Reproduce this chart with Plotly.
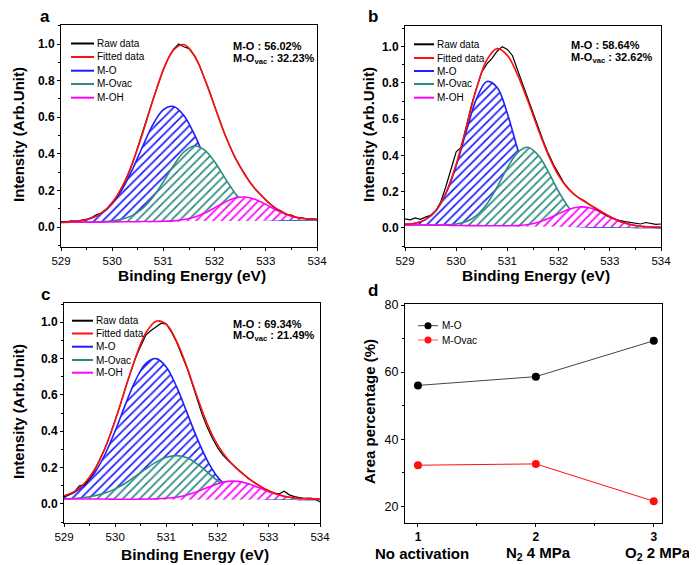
import plotly.graph_objects as go

W, H = 697, 565
OX, OY = 8, 8  # page body margin offset
FONT = "Liberation Sans, Arial, sans-serif"

# ---------------- data ----------------
E_FIT = [529.0, 529.2, 529.4, 529.6, 529.8, 530.0, 530.2, 530.4, 530.6, 530.8,
         531.0, 531.2, 531.4, 531.6, 531.8, 532.0, 532.2, 532.4, 532.6, 532.8,
         533.0, 533.2, 533.4, 533.6, 533.8, 534.0]
E_RAW = [529.0, 529.1, 529.2, 529.3, 529.4, 529.5, 529.6, 529.7, 529.8, 529.9,
         530.0, 530.1, 530.2, 530.3, 530.4, 530.5, 530.6, 530.7, 530.8, 530.9,
         531.0, 531.1, 531.2, 531.3, 531.4, 531.5, 531.6, 531.7, 531.8, 531.9,
         532.0, 532.1, 532.2, 532.3, 532.4, 532.5, 532.6, 532.7, 532.8, 532.9,
         533.0, 533.1, 533.2, 533.3, 533.4, 533.5, 533.6, 533.7, 533.8, 533.9, 534.0]

# panel a (no activation)
a_base = [0.025, 0.026, 0.026, 0.027, 0.027, 0.028, 0.029, 0.029, 0.030, 0.030, 0.031, 0.031, 0.032,
          0.033, 0.033, 0.034, 0.034, 0.035, 0.035, 0.036, 0.037, 0.037, 0.038, 0.038, 0.039, 0.040]
a_mo = [0.026, 0.029, 0.035, 0.049, 0.077, 0.128, 0.209, 0.318, 0.444, 0.562, 0.642, 0.659, 0.610,
        0.509, 0.383, 0.265, 0.170, 0.107, 0.069, 0.050, 0.042, 0.039, 0.039, 0.038, 0.039, 0.040]
a_ovac = [0.025, 0.026, 0.026, 0.027, 0.029, 0.033, 0.044, 0.064, 0.103, 0.165, 0.248, 0.337, 0.410,
          0.443, 0.422, 0.357, 0.269, 0.185, 0.119, 0.077, 0.055, 0.044, 0.040, 0.039, 0.039, 0.040]
a_oh = [0.025, 0.026, 0.026, 0.027, 0.027, 0.028, 0.029, 0.029, 0.030, 0.030, 0.032, 0.034, 0.041,
        0.054, 0.075, 0.105, 0.136, 0.159, 0.164, 0.151, 0.124, 0.093, 0.069, 0.052, 0.045, 0.042]
a_fit = [0.026, 0.029, 0.035, 0.050, 0.079, 0.133, 0.224, 0.353, 0.517, 0.697, 0.860, 0.968, 0.997,
         0.940, 0.814, 0.659, 0.507, 0.381, 0.282, 0.206, 0.147, 0.102, 0.072, 0.053, 0.045, 0.042]
a_raw = [0.030, 0.028, 0.034, 0.030, 0.036, 0.040, 0.052, 0.068, 0.078, 0.100,
         0.135, 0.170, 0.222, 0.280, 0.350, 0.440, 0.520, 0.612, 0.700, 0.780,
         0.862, 0.925, 0.972, 1.000, 0.985, 0.975, 0.938, 0.885, 0.815, 0.742,
         0.662, 0.580, 0.505, 0.440, 0.378, 0.330, 0.285, 0.240, 0.205, 0.175,
         0.150, 0.122, 0.100, 0.088, 0.070, 0.066, 0.052, 0.050, 0.044, 0.045, 0.040]

# panel b (N2 4 MPa)
b_base = [0.017, 0.016, 0.016, 0.015, 0.015, 0.014, 0.013, 0.013, 0.012, 0.012, 0.011, 0.010, 0.010,
          0.009, 0.009, 0.008, 0.007, 0.007, 0.006, 0.006, 0.005, 0.004, 0.004, 0.003, 0.003, 0.002]
b_mo = [0.020, 0.026, 0.046, 0.094, 0.191, 0.344, 0.536, 0.715, 0.808, 0.775, 0.630, 0.434, 0.256,
        0.130, 0.059, 0.026, 0.012, 0.008, 0.006, 0.006, 0.005, 0.004, 0.004, 0.003, 0.003, 0.002]
b_ovac = [0.017, 0.016, 0.016, 0.016, 0.017, 0.022, 0.036, 0.070, 0.132, 0.226, 0.332, 0.416, 0.445,
          0.402, 0.309, 0.201, 0.112, 0.055, 0.025, 0.012, 0.007, 0.004, 0.004, 0.003, 0.003, 0.002]
b_oh = [0.017, 0.016, 0.016, 0.015, 0.015, 0.014, 0.013, 0.013, 0.012, 0.012, 0.012, 0.013, 0.019,
        0.031, 0.052, 0.078, 0.103, 0.116, 0.111, 0.090, 0.061, 0.036, 0.019, 0.009, 0.005, 0.003]
b_fit = [0.020, 0.026, 0.046, 0.095, 0.193, 0.352, 0.559, 0.772, 0.928, 0.989, 0.952, 0.843, 0.700,
         0.545, 0.402, 0.289, 0.213, 0.165, 0.130, 0.096, 0.063, 0.036, 0.019, 0.009, 0.005, 0.003]
b_raw = [0.050, 0.045, 0.055, 0.048, 0.060, 0.070, 0.095, 0.145, 0.230, 0.330,
         0.420, 0.445, 0.560, 0.680, 0.775, 0.860, 0.905, 0.935, 0.975, 1.000,
         0.985, 0.950, 0.870, 0.790, 0.710, 0.635, 0.560, 0.480, 0.410, 0.350,
         0.300, 0.250, 0.215, 0.185, 0.165, 0.150, 0.130, 0.110, 0.090, 0.075,
         0.060, 0.048, 0.040, 0.035, 0.030, 0.028, 0.022, 0.030, 0.025, 0.020, 0.022]

# panel c (O2 2 MPa)
c_base = [0.027, 0.027, 0.027, 0.027, 0.027, 0.026, 0.026, 0.026, 0.026, 0.026, 0.026, 0.026, 0.026,
          0.026, 0.026, 0.026, 0.026, 0.026, 0.026, 0.026, 0.026, 0.026, 0.026, 0.025, 0.025, 0.025]
c_mo = [0.043, 0.064, 0.105, 0.172, 0.272, 0.402, 0.548, 0.682, 0.774, 0.800, 0.753, 0.644, 0.504,
        0.361, 0.239, 0.148, 0.090, 0.056, 0.039, 0.031, 0.028, 0.027, 0.026, 0.025, 0.025, 0.025]
c_ovac = [0.028, 0.030, 0.035, 0.045, 0.060, 0.083, 0.114, 0.153, 0.193, 0.230, 0.257, 0.266, 0.254,
          0.220, 0.175, 0.128, 0.089, 0.061, 0.044, 0.034, 0.029, 0.027, 0.026, 0.025, 0.025, 0.025]
c_oh = [0.027, 0.027, 0.027, 0.027, 0.027, 0.026, 0.026, 0.026, 0.027, 0.028, 0.031, 0.037, 0.049,
        0.067, 0.090, 0.111, 0.124, 0.124, 0.111, 0.090, 0.067, 0.049, 0.037, 0.030, 0.027, 0.026]
c_fit = [0.045, 0.068, 0.114, 0.191, 0.306, 0.459, 0.636, 0.809, 0.942, 1.006, 0.989, 0.895, 0.755,
         0.590, 0.440, 0.325, 0.246, 0.187, 0.142, 0.103, 0.072, 0.051, 0.037, 0.031, 0.028, 0.027]
c_raw = [0.040, 0.050, 0.065, 0.100, 0.105, 0.140, 0.185, 0.245, 0.305, 0.380,
         0.460, 0.545, 0.640, 0.725, 0.805, 0.870, 0.930, 0.955, 0.975, 0.995,
         0.990, 0.945, 0.890, 0.825, 0.750, 0.665, 0.575, 0.490, 0.420, 0.360,
         0.310, 0.270, 0.240, 0.215, 0.185, 0.160, 0.140, 0.120, 0.100, 0.085,
         0.072, 0.060, 0.055, 0.070, 0.050, 0.040, 0.035, 0.030, 0.032, 0.028, 0.010]

# panel d
conditions = [1, 2, 3]
condition_labels = ["No activation", "N<sub>2</sub> 4 MPa", "O<sub>2</sub> 2 MPa"]
mo_pct = [56.02, 58.64, 69.34]
ovac_pct = [32.23, 32.62, 21.49]

legend_names = ["Raw data", "Fitted data", "M-O", "M-Ovac", "M-OH"]

# ---------------- styles ----------------
BLACK = "#000000"
RED = "#ff1010"
BLUE = "#1e1eff"
TEAL = "#2a8c80"
MAGENTA = "#ff00ff"


def P(x, y):
    return (x - OX) / W, 1 - (y - OY) / H


fig = go.Figure()


def add_xps(xa, ya, base, mo, ov, oh, fit, raw):
    for comp, color in [(mo, BLUE), (ov, TEAL), (oh, MAGENTA)]:
        fig.add_trace(go.Scatter(x=E_FIT, y=base, xaxis=xa, yaxis=ya, mode="lines",
                                 line=dict(width=0, shape="spline", color="white"),
                                 showlegend=False, hoverinfo="skip"))
        fig.add_trace(go.Scatter(x=E_FIT, y=comp, xaxis=xa, yaxis=ya, mode="lines",
                                 line=dict(color=color, width=1.6, shape="spline"),
                                 fill="tonexty", fillcolor="white",
                                 fillpattern=dict(shape="/", fgcolor=color, bgcolor="white",
                                                  fgopacity=1, size=6, solidity=0.28),
                                 showlegend=False))
    fig.add_trace(go.Scatter(x=E_RAW, y=raw, xaxis=xa, yaxis=ya, mode="lines",
                             line=dict(color=BLACK, width=1.2), showlegend=False))
    fig.add_trace(go.Scatter(x=E_FIT, y=fit, xaxis=xa, yaxis=ya, mode="lines",
                             line=dict(color=RED, width=1.6, shape="spline"), showlegend=False))


add_xps("x", "y", a_base, a_mo, a_ovac, a_oh, a_fit, a_raw)
add_xps("x2", "y2", b_base, b_mo, b_ovac, b_oh, b_fit, b_raw)
add_xps("x3", "y3", c_base, c_mo, c_ovac, c_oh, c_fit, c_raw)

fig.add_trace(go.Scatter(x=conditions, y=mo_pct, xaxis="x4", yaxis="y4", mode="lines+markers",
                         line=dict(color="#444444", width=1),
                         marker=dict(color=BLACK, size=8), showlegend=False))
fig.add_trace(go.Scatter(x=conditions, y=ovac_pct, xaxis="x4", yaxis="y4", mode="lines+markers",
                         line=dict(color=RED, width=1),
                         marker=dict(color=RED, size=8), showlegend=False))

# ---------------- axes ----------------
def dom_x(l, r):
    return [(l - OX) / W, (r - OX) / W]


def dom_y(t, b):
    return [1 - (b - OY) / H, 1 - (t - OY) / H]


base_axis = dict(showgrid=False, zeroline=False, showline=True, linecolor="black", linewidth=1,
                 ticks="outside", ticklen=3, tickwidth=1, tickcolor="black")

xfont = dict(family=FONT, size=11.5, color="black")
yfont = dict(family=FONT, size=12, color="black", weight="bold")


def xps_x(domain, anchor):
    return dict(base_axis, domain=domain, anchor=anchor, range=[529, 534], tick0=529, dtick=1,
                mirror=True, tickfont=xfont, minor=dict(ticks="outside", ticklen=2, dtick=0.5))


def xps_y(domain, anchor, rng):
    return dict(base_axis, domain=domain, anchor=anchor, range=rng, tick0=0, dtick=0.2,
                tickformat=".1f", mirror=True, tickfont=yfont,
                minor=dict(ticks="outside", ticklen=2, dtick=0.1))


layout = dict(
    width=W, height=H, autosize=False,
    margin=dict(l=0, r=0, t=0, b=0, pad=0, autoexpand=False),
    paper_bgcolor="white", plot_bgcolor="white", showlegend=False,
    font=dict(family=FONT, color="black"),
    xaxis=xps_x(dom_x(61, 317), "y"),
    yaxis=xps_y(dom_y(25, 247), "x", [-0.109, 1.104]),
    xaxis2=xps_x(dom_x(405, 661), "y2"),
    yaxis2=xps_y(dom_y(26, 247), "x2", [-0.105, 1.114]),
    xaxis3=xps_x(dom_x(64, 320), "y3"),
    yaxis3=xps_y(dom_y(303, 523), "x3", [-0.105, 1.106]),
    xaxis4=dict(base_axis, domain=dom_x(405, 662), anchor="y4", range=[0.89, 3.07],
                tickvals=conditions, mirror=True,
                tickfont=dict(family=FONT, size=12, color="black", weight="bold"),
                minor=dict(ticks="outside", ticklen=2, tickvals=[1.5, 2.5])),
    yaxis4=dict(base_axis, domain=dom_y(304, 523), anchor="x4", range=[15, 80.3], tick0=0, dtick=20,
                mirror=True, tickfont=dict(family=FONT, size=12.5, color="black"),
                minor=dict(ticks="outside", ticklen=2, dtick=10)),
)
fig.update_layout(**layout)

annotations = []
shapes = []


def text(x, y, s, size, bold=False, anchor="left", angle=0, color="black"):
    px, py = P(x, y)
    annotations.append(dict(x=px, y=py, xref="paper", yref="paper", text=s, showarrow=False,
                            xanchor=anchor, yanchor="middle", textangle=angle, borderpad=0,
                            font=dict(family=FONT, size=size, color=color,
                                      weight="bold" if bold else "normal")))


# panel letters
text(45, 16, "a", 17, True, "center")
text(373, 16, "b", 17, True, "center")
text(45, 294, "c", 17, True, "center")
text(373, 290, "d", 17, True, "center")

# axis titles
for cx, cy in [(192, 276), (536, 276), (195, 554)]:
    text(cx, cy, "Binding Energy (eV)", 15.5, True, "center")
for cx, cy in [(18, 135), (368, 135), (18, 412)]:
    text(cx, cy, "Intensity (Arb.Unit)", 15, True, "center", -90)
text(369, 412, "Area percentage (%)", 15, True, "center", -90)

# condition labels under panel d
for cx, lab in zip([422, 538, 658], condition_labels):
    text(cx, 553, lab, 15, True, "center")

# percentage annotations
for (lx, y1, y2), mo, ov in zip([(232, 46, 58.5), (570, 44.5, 57.5), (232, 323.5, 335.5)],
                                 mo_pct[:3], ovac_pct[:3]):
    text(lx, y1, "M-O : %.2f%%" % mo, 11, True)
    text(lx, y2, "M-O<sub>vac</sub> : %.2f%%" % ov, 11, True)

# custom legends for XPS panels
leg_colors = [BLACK, RED, BLUE, TEAL, MAGENTA]
for x0, x1, tx, rows in [(71, 94, 96, [43.5, 57, 70.7, 84, 97.7]),
                         (414, 434, 436, [44.3, 58, 71, 84, 97.7]),
                         (72, 93, 95, [320.7, 333.5, 346.7, 360, 372.7])]:
    for name, col, yy in zip(legend_names, leg_colors, rows):
        ax0, ay = P(x0, yy)
        ax1, _ = P(x1, yy)
        shapes.append(dict(type="line", xref="paper", yref="paper", x0=ax0, x1=ax1, y0=ay, y1=ay,
                           line=dict(color=col, width=2)))
        text(tx, yy, name, 10)

# legend for panel d
for name, lcol, mcol, yy in [("M-O", "#444444", BLACK, 325.7), ("M-Ovac", "#ff6060", RED, 340)]:
    ax0, ay = P(418, yy)
    ax1, _ = P(438, yy)
    shapes.append(dict(type="line", xref="paper", yref="paper", x0=ax0, x1=ax1, y0=ay, y1=ay,
                       line=dict(color=lcol, width=1)))
    cx0, cy0 = P(424.5, yy - 3.5)
    cx1, cy1 = P(431.5, yy + 3.5)
    shapes.append(dict(type="circle", xref="paper", yref="paper", x0=cx0, x1=cx1, y0=cy1, y1=cy0,
                       fillcolor=mcol, line=dict(color=mcol, width=0)))
    text(441, yy, name, 10)

fig.update_layout(annotations=annotations, shapes=shapes)
fig.write_html("out.html")
